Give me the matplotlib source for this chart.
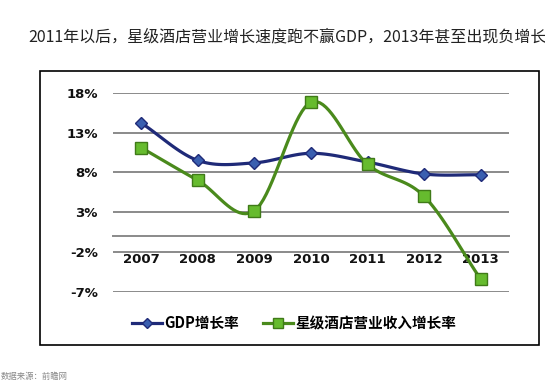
import numpy as np
import matplotlib
matplotlib.use('Agg')
import matplotlib.pyplot as plt
from matplotlib.patches import Rectangle

plt.rcParams['font.family'] = ['Noto Sans CJK SC', 'DejaVu Sans']

# данные
years = ['2007', '2008', '2009', '2010', '2011', '2012', '2013']
gdp_growth = [14.2, 9.5, 9.2, 10.4, 9.3, 7.8, 7.7]
hotel_growth = [11.1, 7.0, 3.2, 16.8, 9.0, 5.0, -5.4]
y_ticks = [-7, -2, 3, 8, 13, 18]
title = '2011年以后，星级酒店营业增长速度跑不赢GDP，2013年甚至出现负增长'
source = '数据来源：前瞻网'


def smooth(xs, ys, n=20):
    # сглаживание линии как в Excel (Catmull-Rom)
    xs = np.asarray(xs, float)
    ys = np.asarray(ys, float)
    px = np.concatenate([[2 * xs[0] - xs[1]], xs, [2 * xs[-1] - xs[-2]]])
    py = np.concatenate([[2 * ys[0] - ys[1]], ys, [2 * ys[-1] - ys[-2]]])
    out_x, out_y = [], []
    t = np.linspace(0, 1, n)
    for i in range(1, len(px) - 2):
        for p, out in ((px, out_x), (py, out_y)):
            p0, p1, p2, p3 = p[i - 1], p[i], p[i + 1], p[i + 2]
            seg = 0.5 * ((2 * p1) + (-p0 + p2) * t +
                         (2 * p0 - 5 * p1 + 4 * p2 - p3) * t ** 2 +
                         (-p0 + 3 * p1 - 3 * p2 + p3) * t ** 3)
            out.extend(seg)
    return out_x, out_y


fig = plt.figure(figsize=(5.45, 3.86), dpi=100)
W, H = 545, 386

fig.text(28 / W, 1 - 37 / H, title, fontsize=11.5, color='#222222',
         va='center', ha='left')
fig.text(1 / W, 1 - 376 / H, source, fontsize=6, color='#888888',
         va='center', ha='left')

fig.patches.append(Rectangle((40 / W, 1 - 345 / H), 499 / W, 274.5 / H,
                             transform=fig.transFigure, fill=False,
                             edgecolor='black', linewidth=1.2))

ax = fig.add_axes([113 / W, 1 - 292 / H, 396 / W, 199.3 / H])
x = np.arange(len(years))

# ось X по нулю (сбрасывает тики, поэтому до подписей)
for s in ['top', 'right', 'left']:
    ax.spines[s].set_visible(False)
ax.spines['bottom'].set_position(('data', 0))
ax.spines['bottom'].set_color('#8a8a8a')
ax.spines['bottom'].set_linewidth(1.4)

for v in y_ticks:
    ax.axhline(v, color='#8a8a8a', linewidth=1.4, zorder=1)

sx, sy = smooth(x, gdp_growth)
ax.plot(sx, sy, color='#1f2a78', linewidth=2.3, zorder=3)
ax.plot(x, gdp_growth, linestyle='none', marker='D', markersize=6,
        markerfacecolor='#3a5fb0', markeredgecolor='#1f2a78', zorder=4)

sx, sy = smooth(x, hotel_growth)
ax.plot(sx, sy, color='#4a8a1c', linewidth=2.3, zorder=3)
ax.plot(x, hotel_growth, linestyle='none', marker='s', markersize=8.5,
        markerfacecolor='#66bb2e', markeredgecolor='#3f7a18', zorder=4)

ax.set_xlim(-0.5, len(years) - 0.5)
ax.set_ylim(-7, 18)
ax.tick_params(axis='both', length=0, colors='#111111')
ax.tick_params(axis='x', pad=12)
ax.tick_params(axis='y', pad=11)

tick_font = {'family': 'DejaVu Sans', 'weight': 'bold', 'size': 9.5}
ax.set_xticks(x)
ax.set_xticklabels(years, fontdict=tick_font)
ax.set_yticks(y_ticks)
ax.set_yticklabels([f'{v}%' for v in y_ticks], fontdict=tick_font)

h1, = ax.plot([], [], color='#1f2a78', linewidth=2.3, marker='D',
              markersize=5, markerfacecolor='#3a5fb0',
              markeredgecolor='#1f2a78')
h2, = ax.plot([], [], color='#4a8a1c', linewidth=2.3, marker='s',
              markersize=7, markerfacecolor='#66bb2e',
              markeredgecolor='#3f7a18')
fig.legend([h1, h2], ['GDP增长率', '星级酒店营业收入增长率'],
           loc='center left', bbox_to_anchor=(126 / W, 1 - 323 / H),
           ncol=2, frameon=False, handlelength=2.1,
           handletextpad=0.15, columnspacing=1.6, borderaxespad=0,
           prop={'family': ['Noto Sans CJK SC', 'DejaVu Sans'],
                 'weight': 'bold', 'size': 10.5})

fig.savefig('out.png', dpi=100)
